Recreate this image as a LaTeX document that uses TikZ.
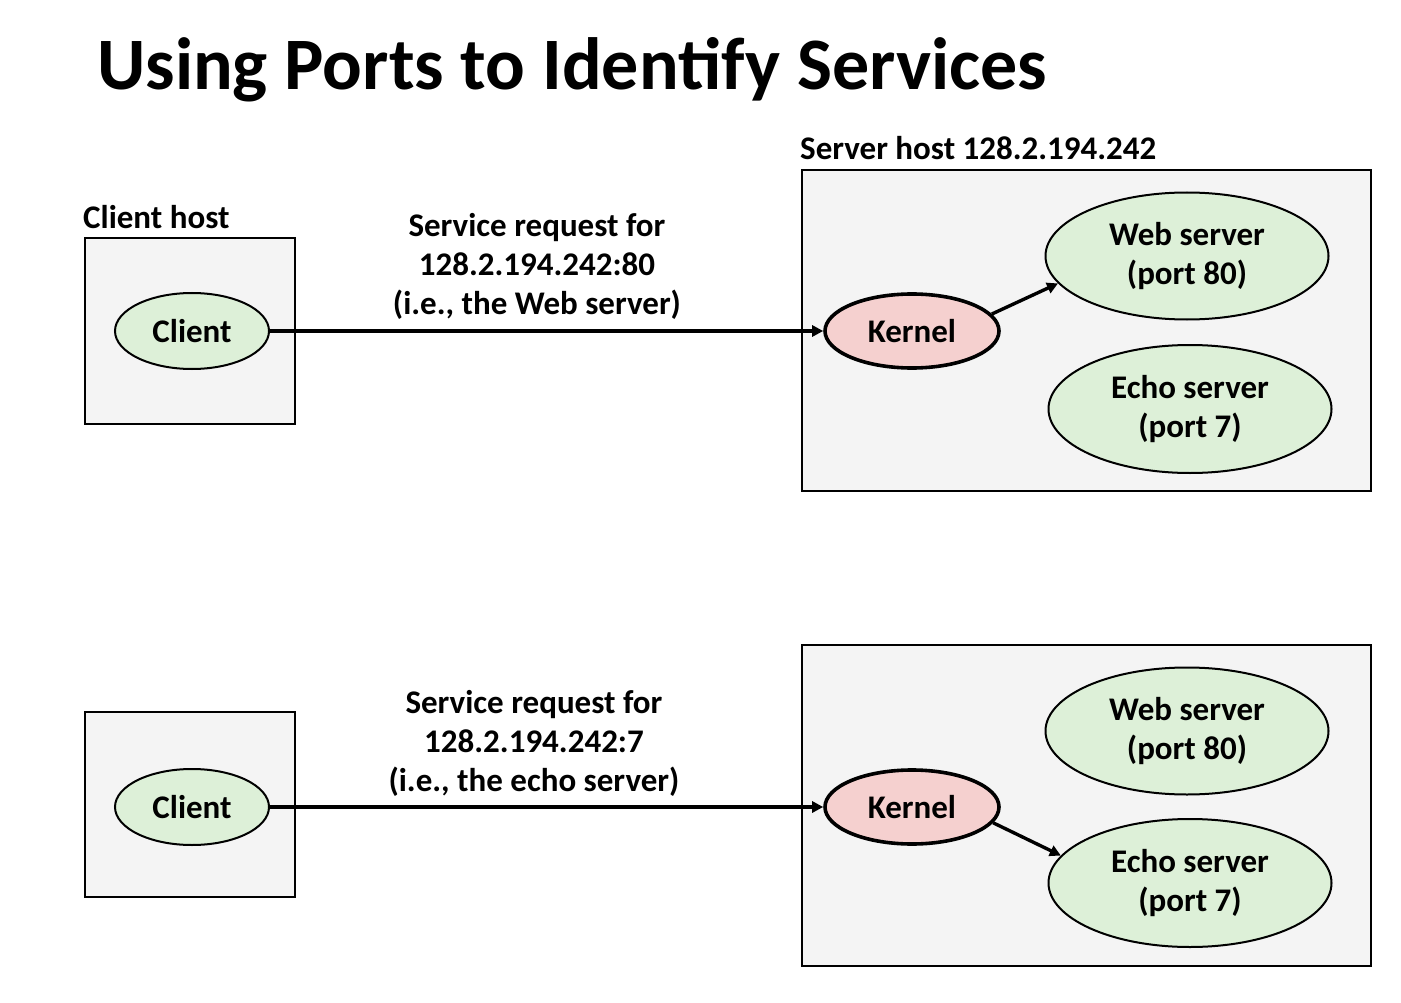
\documentclass[tikz,border=0pt]{standalone}
\usepackage{fontspec}
\setmainfont{Carlito}
\usetikzlibrary{shapes.geometric,arrows.meta}
\definecolor{boxfill}{HTML}{F4F4F4}
\definecolor{procfill}{HTML}{DDF0D8}
\definecolor{kernfill}{HTML}{F5D0CF}
\begin{document}
\begin{tikzpicture}[x=1pt,y=-1pt,
  font=\fontsize{33}{39}\selectfont\bfseries,
  hostbox/.style={draw=black,line width=1.8pt,fill=boxfill},
  proc/.style={ellipse,draw=black,line width=2pt,fill=procfill,inner sep=0pt,align=center},
  kern/.style={ellipse,draw=black,line width=3.6pt,fill=kernfill,inner sep=0pt,
    minimum width=174pt,minimum height=74pt},
  req/.style={-{Triangle[length=11pt,width=11pt]},line width=3.4pt},
  note/.style={align=center},
  hostlabel/.style={anchor=base west,inner sep=0pt}]
\useasboundingbox (0,0) rectangle (1401,1003);

% title
\node[anchor=base west,inner sep=0pt,font=\fontsize{74}{80}\selectfont\bfseries] (title) at (97,90) {Using Ports to Identify Services};

% ---------- upper scenario: request to port 80 ----------
\node[hostbox,minimum width=210pt,minimum height=186pt,anchor=north west] (chostA) at (84,237) {};
\node[hostlabel] (chlabel) at (83,229) {Client host};
\node[proc,minimum width=154pt,minimum height=76pt] (clientA) at (192,331) {Client};

\node[hostbox,minimum width=569pt,minimum height=321pt,anchor=north west] (shostA) at (801,169) {};
\node[hostlabel] (shlabel) at (800,160) {Server host 128.2.194.242};
\node[kern] (kernA) at (912,331) {Kernel};
\node[proc,minimum width=283pt,minimum height=127pt] (webA) at (1187,256) {Web server\\(port 80)};
\node[proc,minimum width=283pt,minimum height=128pt] (echoA) at (1190,409) {Echo server\\(port 7)};

\node[note] (noteA) at (537,266) {Service request for\\128.2.194.242:80\\(i.e., the Web server)};

\draw[req] (clientA.east) -- (kernA.west);
\draw[req] (kernA.12) -- (webA.192);

% ---------- lower scenario: request to port 7 ----------
\node[hostbox,minimum width=210pt,minimum height=185pt,anchor=north west] (chostB) at (84,711) {};
\node[proc,minimum width=154pt,minimum height=76pt] (clientB) at (192,807) {Client};

\node[hostbox,minimum width=569pt,minimum height=321pt,anchor=north west] (shostB) at (801,644) {};
\node[kern] (kernB) at (912,807) {Kernel};
\node[proc,minimum width=283pt,minimum height=127pt] (webB) at (1187,731) {Web server\\(port 80)};
\node[proc,minimum width=283pt,minimum height=128pt] (echoB) at (1190,883) {Echo server\\(port 7)};

\node[note] (noteB) at (534,743) {Service request for\\128.2.194.242:7\\(i.e., the echo server)};

\draw[req] (clientB.east) -- (kernB.west);
\draw[req] (kernB.-11) -- (echoB.168);
\end{tikzpicture}
\end{document}
